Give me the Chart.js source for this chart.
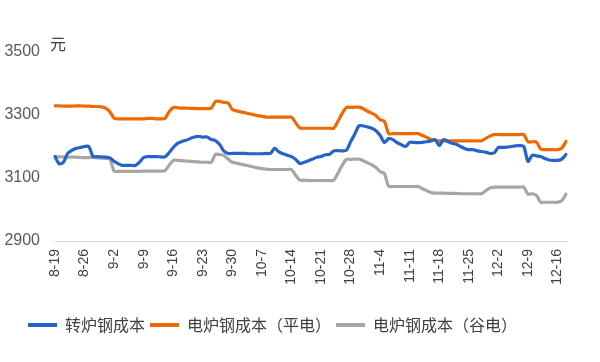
<!DOCTYPE html>
<html>
<head>
<meta charset="utf-8">
<script src="https://cdn.jsdelivr.net/npm/chart.js@4/dist/chart.umd.min.js"></script>
<style>
  html, body { margin: 0; padding: 0; background: #fff; }
  #wrap { width: 600px; height: 362px; position: relative; }
</style>
</head>
<body>
<div id="wrap"><canvas id="grafica" width="600" height="362"></canvas></div>
<script>
// fechas (diarias)
var fechas = [
  '8-19','8-20','8-21','8-22','8-23','8-24','8-25','8-26','8-27','8-28','8-29','8-30','8-31',
  '9-1','9-2','9-3','9-4','9-5','9-6','9-7','9-8','9-9','9-10','9-11','9-12','9-13','9-14','9-15',
  '9-16','9-17','9-18','9-19','9-20','9-21','9-22','9-23','9-24','9-25','9-26','9-27','9-28','9-29','9-30',
  '10-1','10-2','10-3','10-4','10-5','10-6','10-7','10-8','10-9','10-10','10-11','10-12','10-13','10-14',
  '10-15','10-16','10-17','10-18','10-19','10-20','10-21','10-22','10-23','10-24','10-25','10-26','10-27',
  '10-28','10-29','10-30','10-31',
  '11-1','11-2','11-3','11-4','11-5','11-6','11-7','11-8','11-9','11-10','11-11','11-12','11-13','11-14',
  '11-15','11-16','11-17','11-18','11-19','11-20','11-21','11-22','11-23','11-24','11-25','11-26','11-27',
  '11-28','11-29','11-30',
  '12-1','12-2','12-3','12-4','12-5','12-6','12-7','12-8','12-9','12-10','12-11','12-12','12-13','12-14',
  '12-15','12-16','12-17','12-18'
];

var etiquetas = ['8-19','8-26','9-2','9-9','9-16','9-23','9-30','10-7','10-14','10-21',
  '10-28','11-4','11-11','11-18','11-25','12-2','12-9','12-16'];

var yTicks = [2900, 3100, 3300, 3500];

var nombres = ['转炉钢成本', '电炉钢成本（平电）', '电炉钢成本（谷电）'];

var zhuanlu = [
  3168,3145,3150,3178,3188,3194,3197,3200,3200,3168,
  3168,3167,3166,3164,3153,3145,3140,3140,3140,3140,
  3150,3165,3168,3168,3168,3167,3167,3180,3197,3210,
  3216,3220,3225,3230,3232,3230,3230,3222,3219,3206,
  3185,3178,3178,3178,3178,3178,3177,3177,3177,3177,
  3178,3178,3194,3183,3177,3172,3168,3159,3146,3150,
  3155,3160,3166,3168,3174,3175,3186,3187,3186,3188,
  3215,3240,3266,3265,3262,3258,3250,3235,3213,3225,
  3222,3212,3206,3200,3213,3213,3212,3213,3215,3218,
  3222,3203,3222,3216,3210,3207,3200,3194,3190,3190,
  3186,3184,3182,3178,3180,3197,3197,3198,3200,3202,
  3203,3200,3153,3172,3170,3168,3162,3157,3156,3156,
  3160,3175
];

var pingdian = [
  3329,3329,3328,3328,3328,3329,3329,3328,3328,3327,
  3327,3326,3322,3310,3290,3288,3288,3288,3288,3288,
  3288,3288,3289,3289,3288,3288,3289,3310,3324,3323,
  3322,3322,3321,3321,3320,3320,3320,3322,3343,3343,
  3340,3338,3317,3313,3310,3307,3304,3301,3298,3296,
  3293,3293,3293,3293,3293,3293,3293,3275,3259,3258,
  3258,3258,3258,3258,3258,3258,3258,3280,3305,3324,
  3324,3325,3325,3320,3312,3306,3298,3285,3280,3241,
  3241,3241,3241,3241,3241,3241,3241,3235,3229,3222,
  3219,3218,3218,3218,3218,3218,3218,3218,3218,3218,
  3218,3218,3226,3233,3238,3238,3238,3238,3238,3238,
  3238,3238,3215,3215,3214,3192,3190,3190,3190,3190,
  3195,3216
];

var gudian = [
  3168,3167,3167,3166,3166,3166,3165,3165,3165,3165,
  3164,3163,3162,3160,3122,3121,3121,3121,3121,3121,
  3121,3122,3122,3122,3122,3122,3123,3140,3156,3156,
  3155,3154,3153,3152,3151,3150,3150,3150,3175,3174,
  3172,3160,3150,3147,3144,3141,3138,3135,3132,3130,
  3128,3127,3127,3127,3127,3127,3127,3108,3093,3093,
  3092,3092,3092,3092,3092,3092,3093,3115,3140,3159,
  3159,3160,3160,3155,3148,3142,3133,3120,3114,3074,
  3073,3073,3073,3073,3073,3073,3073,3066,3060,3054,
  3052,3052,3052,3051,3051,3051,3050,3050,3050,3050,
  3050,3050,3060,3068,3071,3071,3071,3071,3071,3071,
  3071,3071,3049,3050,3045,3023,3023,3023,3023,3023,
  3028,3049
];

var colores = ['#2563C6', '#EE6A00', '#A6A6A6'];

// unidad "元" arriba del eje + leyenda un poco a la derecha
var extras = {
  id: 'extras',
  afterLayout: function (chart) {
    chart.legend.left = 23;
  },
  afterDraw: function (chart) {
    var ctx = chart.ctx;
    ctx.save();
    ctx.font = '16px "Noto Sans CJK SC"';
    ctx.fillStyle = '#404040';
    ctx.textBaseline = 'middle';
    ctx.fillText('元', 50, 44);
    ctx.restore();
  }
};

function serie(i, datos) {
  return {
    label: nombres[i],
    data: datos,
    borderColor: colores[i],
    backgroundColor: colores[i],
    borderWidth: 3.2,
    pointRadius: 0,
    tension: 0.3,
    borderCapStyle: 'round',
    borderJoinStyle: 'round'
  };
}

var miCanvas = document.getElementById('grafica').getContext('2d');

var chart = new Chart(miCanvas, {
  type: 'line',
  data: {
    labels: fechas,
    datasets: [serie(0, zhuanlu), serie(1, pingdian), serie(2, gudian)]
  },
  options: {
    responsive: false,
    animation: false,
    layout: { padding: { left: 0, right: 34, top: 52, bottom: 19 } },
    plugins: {
      tooltip: { enabled: false },
      legend: {
        position: 'bottom',
        align: 'start',
        labels: {
          boxWidth: 29,
          boxHeight: 4,
          padding: 5,
          color: '#404040',
          font: { family: '"Noto Sans CJK SC"', size: 16 },
          generateLabels: function (ch) {
            var items = Chart.defaults.plugins.legend.labels.generateLabels(ch);
            items.forEach(function (it) { it.lineWidth = 0; });
            return items;
          }
        }
      }
    },
    scales: {
      x: {
        offset: false,
        grid: { display: false, drawTicks: false },
        border: { display: true, color: '#D9D9D9', width: 1 },
        ticks: {
          autoSkip: false,
          minRotation: 90,
          maxRotation: 90,
          padding: 8,
          color: '#404040',
          font: { family: '"Liberation Sans"', size: 14 },
          callback: function (val, idx) {
            var f = fechas[idx];
            return etiquetas.indexOf(f) >= 0 ? f : '';
          }
        },
        afterFit: function (scale) { scale.height = 71; }
      },
      y: {
        min: 2900,
        max: 3500,
        grid: { display: false, drawTicks: false },
        border: { display: false },
        afterBuildTicks: function (scale) {
          scale.ticks = yTicks.map(function (v) { return { value: v }; });
        },
        ticks: {
          padding: 15,
          color: '#595959',
          font: { family: '"Liberation Sans"', size: 16 },
          callback: function (v) { return String(v); }
        },
        afterFit: function (scale) { scale.width = 55; }
      }
    }
  },
  plugins: [extras]
});
</script>
</body>
</html>
